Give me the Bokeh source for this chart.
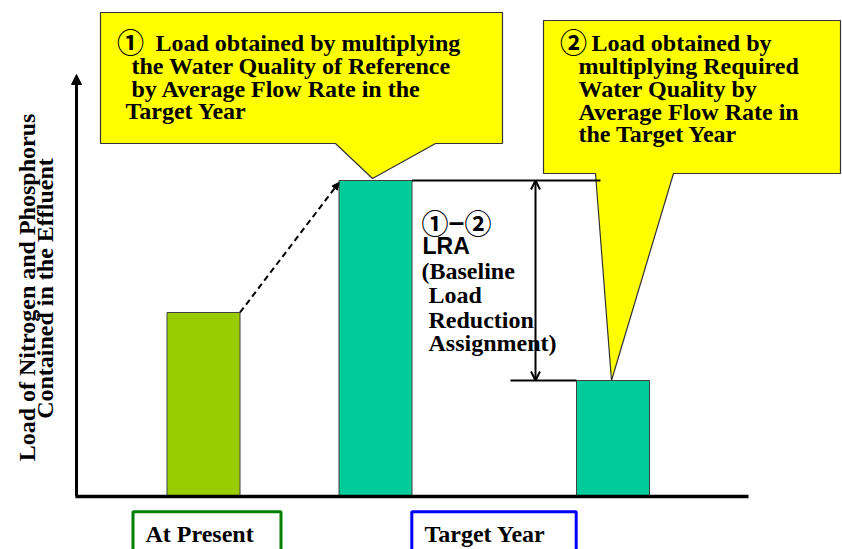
import math
from bokeh.plotting import figure
from bokeh.models import Range1d, Label, Arrow, NormalHead, OpenHead
from bokeh.embed import file_html
from bokeh.resources import INLINE

# ---------------- data ----------------
categories = ["At Present", "Target Year (reference quality)", "Target Year (required quality)"]
load_values = [4.6, 7.9, 2.9]          # relative load (arbitrary units)
bar_colors = ["#99CC00", "#00CC99", "#00CC99"]
period_labels = ["At Present", "Target Year"]
y_axis_title = ["Load of Nitrogen and Phosphorus", "Contained in the Effluent"]
callout1_lines = ["Load obtained by multiplying", "the Water Quality of Reference",
                  "by Average Flow Rate in the", "Target Year"]
callout2_lines = ["Load obtained by", "multiplying Required", "Water Quality by",
                  "Average Flow Rate in", "the Target Year"]
lra_lines = ["(Baseline", "Load", "Reduction", "Assignment)"]

# ---------------- layout ----------------
W, H = 842, 549
BASE = 496.0     # screen row of the zero line
SCALE = 40.0     # pixels per unit of load


def Y(py):
    return (BASE - py) / SCALE


def PY(v):
    return BASE - v * SCALE


SERIF = "Liberation Serif"
SANS = "Liberation Sans"
CJK = "Noto Sans CJK JP"
FS = 24

p = figure(width=W, height=H, x_range=Range1d(0, W), y_range=Range1d(Y(H), Y(0)),
           output_backend="svg", toolbar_location=None, min_border=0,
           x_axis_location=None, y_axis_location=None, outline_line_color=None,
           background_fill_color="white", border_fill_color="white")
p.grid.grid_line_color = None

bar_x = [203, 375, 612.5]
bar_w = 73

# bars
p.vbar(x=bar_x, top=load_values, bottom=0, width=bar_w, fill_color=bar_colors,
       line_color="#404040", line_width=1)

# callout 1 (points at reference bar)
tip1x = bar_x[1] - 3
tip1y = PY(load_values[1]) - 2
c1x = [100, 502, 502, 435, tip1x, 335, 100]
c1y = [Y(v) for v in [12, 12, 143, 143, tip1y, 143, 143]]
p.patch(c1x, c1y, fill_color="#FFFF00", line_color="#333333", line_width=1.2)

# callout 2 (points at required bar)
tip2x = bar_x[2] - 1.5
tip2y = PY(load_values[2])
c2x = [543, 840, 840, 673, tip2x, 595, 543]
c2y = [Y(v) for v in [20, 20, 173, 173, tip2y, 173, 173]]
p.patch(c2x, c2y, fill_color="#FFFF00", line_color="#333333", line_width=1.2)

# reference lines for LRA
p.segment(x0=[bar_x[1] + bar_w / 2, 510], y0=[load_values[1], load_values[2]],
          x1=[600, bar_x[2] - bar_w / 2], y1=[load_values[1], load_values[2]],
          line_color="black", line_width=2)

# x axis
p.segment(x0=[75], y0=[0], x1=[748], y1=[0], line_color="black", line_width=3.5)

# y axis with arrow
p.add_layout(Arrow(end=NormalHead(size=10, fill_color="black", line_color="black"),
                   x_start=76, y_start=0, x_end=76, y_end=Y(74),
                   line_color="black", line_width=3))

# dashed growth arrow
p.add_layout(Arrow(end=NormalHead(size=7, fill_color="black", line_color="black"),
                   x_start=bar_x[0] + bar_w / 2, y_start=load_values[0],
                   x_end=bar_x[1] - bar_w / 2, y_end=load_values[1] - 0.05,
                   line_color="black", line_width=2, line_dash="6 4"))

# double arrow
p.add_layout(Arrow(start=OpenHead(size=9, line_width=2), end=OpenHead(size=9, line_width=2),
                   x_start=535, y_start=load_values[2], x_end=535, y_end=load_values[1],
                   line_color="black", line_width=2))


def label(x, py, text, size=FS, font=SERIF, align="left", baseline="alphabetic", angle=0):
    if baseline == "alphabetic":
        off = size / 3.0
        if angle:
            x -= off
        else:
            py -= off
    p.add_layout(Label(x=x, y=Y(py), text=text, text_font=font, text_font_size=f"{size}px",
                       text_font_style="bold", text_align=align, text_baseline=baseline,
                       angle=angle, text_color="black"))


# callout 1 text
label(130, 41, "①", size=27, font=CJK, align="center", baseline="middle")
label(155, 50.7, callout1_lines[0])
label(131, 73.3, callout1_lines[1])
label(131, 96, callout1_lines[2])
label(125, 118.7, callout1_lines[3])

# callout 2 text
label(573, 41, "②", size=27, font=CJK, align="center", baseline="middle")
label(591, 50.7, callout2_lines[0])
for i, t in enumerate(callout2_lines[1:]):
    label(578, [73.3, 96.7, 119.3, 141.7][i], t)

# LRA text
label(421, 222, "①−②", size=27, font=CJK, baseline="middle")
label(422, 253, "LRA", size=23, font=SANS)
label(421, 278, lra_lines[0])
label(428, 302, lra_lines[1])
label(428, 327, lra_lines[2])
label(428, 350, lra_lines[3])

# y axis title (rotated)
label(34, 287, y_axis_title[0], align="center", angle=math.pi / 2)
label(52, 288, y_axis_title[1], align="center", angle=math.pi / 2)

# period boxes
p.quad(left=[132.5, 411.3], right=[280.5, 575.7], top=[Y(511.3)] * 2, bottom=[Y(600)] * 2,
       fill_color=None, line_color=["#008000", "#0000FF"], line_width=3)
label(145, 541, period_labels[0])
label(424, 541, period_labels[1])

open("out.html", "w").write(file_html(p, INLINE))
